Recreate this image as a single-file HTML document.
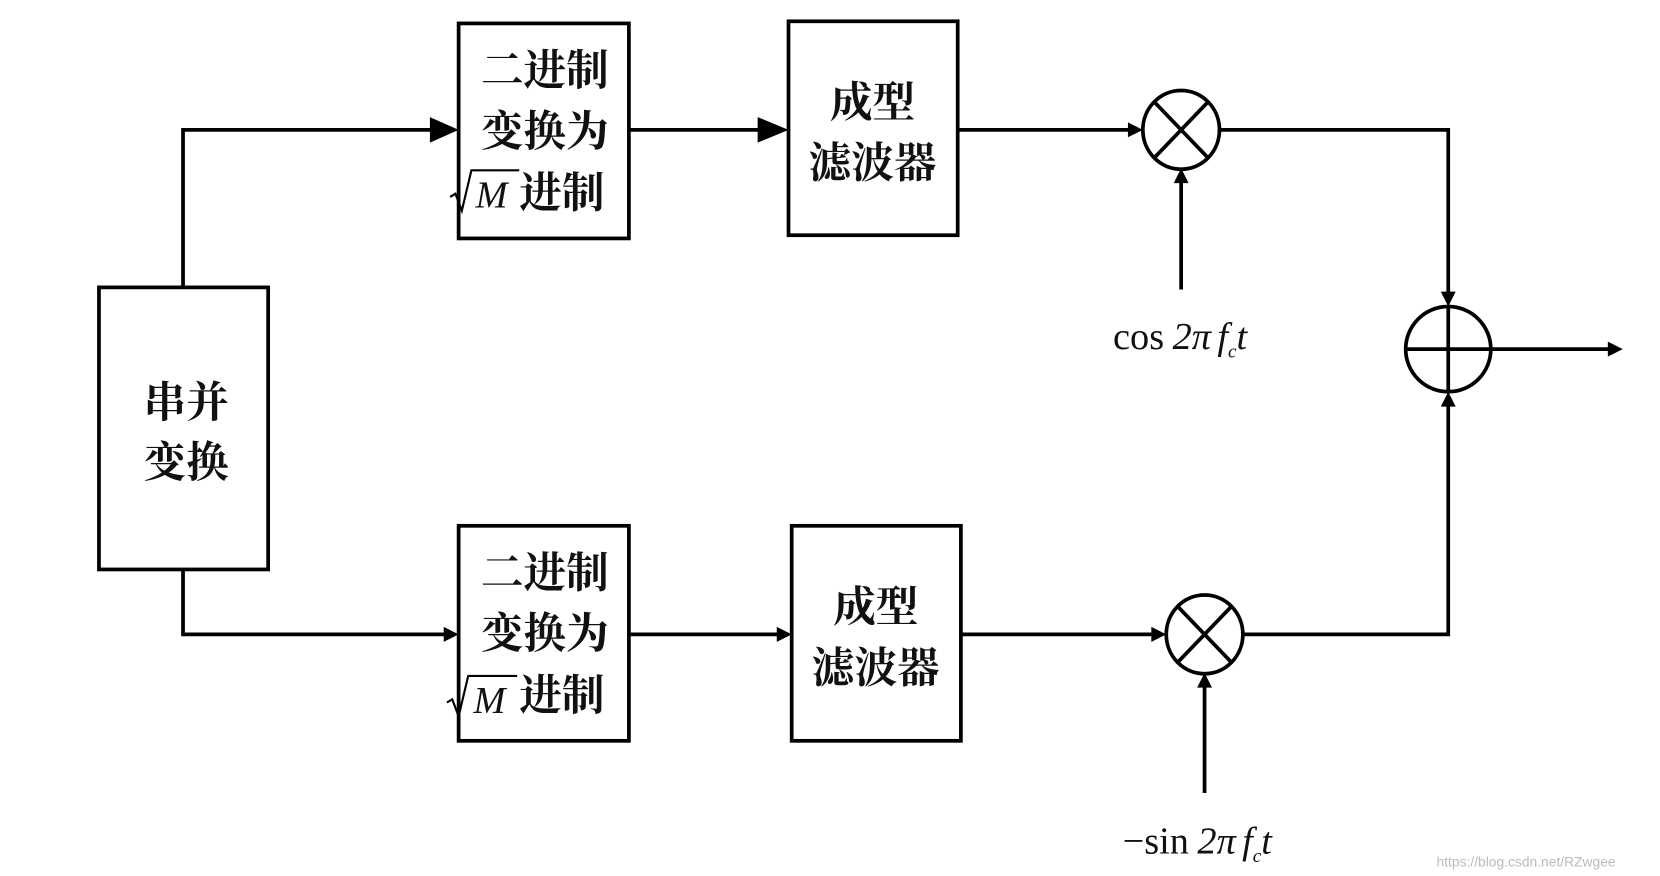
<!DOCTYPE html>
<html><head><meta charset="utf-8"><style>
html,body{margin:0;padding:0;background:#fff;}
svg{display:block;}
.cj{font-family:"Liberation Serif","Noto Serif CJK SC",serif;font-weight:bold;font-size:40px;fill:#111;}
.m{font-family:"Liberation Serif",serif;font-size:36px;fill:#111;}
</style></head><body>
<svg width="1660" height="876" viewBox="0 0 1560 823" preserveAspectRatio="none" xmlns="http://www.w3.org/2000/svg">
<defs>
<marker id="big" markerWidth="10" markerHeight="10" refX="9" refY="5" orient="auto" markerUnits="userSpaceOnUse"><path d="M0,0 L10,5 L0,10 z" fill="#000"/></marker>
</defs>
<g fill="none" stroke="#000" stroke-width="3.5">
<rect x="93" y="270" width="159" height="265"/>
<rect x="431" y="22" width="160" height="202"/>
<rect x="741" y="20" width="159" height="201"/>
<rect x="431" y="494" width="160" height="202"/>
<rect x="744" y="494" width="159" height="202"/>
<ellipse cx="1110" cy="122" rx="36" ry="37"/>
<line x1="1085" y1="96" x2="1135" y2="148"/><line x1="1135" y1="96" x2="1085" y2="148"/>
<ellipse cx="1132" cy="596" rx="36" ry="37"/>
<line x1="1107" y1="570" x2="1157" y2="622"/><line x1="1157" y1="570" x2="1107" y2="622"/>
<ellipse cx="1361" cy="328" rx="40" ry="40"/>
<line x1="1321" y1="328" x2="1401" y2="328"/><line x1="1361" y1="288" x2="1361" y2="368"/>
<polyline points="172,270 172,122 408,122"/>
<line x1="591" y1="122" x2="716" y2="122"/>
<line x1="900" y1="122" x2="1064" y2="122"/>
<polyline points="1146,122 1361,122 1361,278"/>
<line x1="1110" y1="272" x2="1110" y2="168"/>
<polyline points="172,535 172,596 421,596"/>
<line x1="591" y1="596" x2="734" y2="596"/>
<line x1="903" y1="596" x2="1086" y2="596"/>
<polyline points="1168,596 1361,596 1361,378"/>
<line x1="1132" y1="745" x2="1132" y2="642"/>
<line x1="1401" y1="328" x2="1515" y2="328"/>
</g>
<g fill="#000">
<path d="M404,110 L431,122 L404,134 z"/>
<path d="M712,110 L741,122 L712,134 z"/>
<path d="M1060,115 L1074,122 L1060,129 z"/>
<path d="M1354,274 L1361,288 L1368,274 z"/>
<path d="M1103,172 L1110,158 L1117,172 z"/>
<path d="M417,589 L431,596 L417,603 z"/>
<path d="M730,589 L744,596 L730,603 z"/>
<path d="M1082,589 L1096,596 L1082,603 z"/>
<path d="M1354,382 L1361,368 L1368,382 z"/>
<path d="M1125,646 L1132,632 L1139,646 z"/>
<path d="M1511,321 L1525,328 L1511,335 z"/>
</g>
<text class="cj" x="175" y="392" text-anchor="middle">串并</text>
<text class="cj" x="175" y="448" text-anchor="middle">变换</text>
<g class="cj">
<text x="512" y="80" text-anchor="middle">二进制</text>
<text x="512" y="137" text-anchor="middle">变换为</text>
<text x="488" y="195">进制</text>
<text x="820" y="110" text-anchor="middle">成型</text>
<text x="820" y="167" text-anchor="middle">滤波器</text>
<text x="512" y="552" text-anchor="middle">二进制</text>
<text x="512" y="609" text-anchor="middle">变换为</text>
<text x="488" y="667">进制</text>
<text x="823" y="584" text-anchor="middle">成型</text>
<text x="823" y="641" text-anchor="middle">滤波器</text>
</g>
<g fill="none" stroke="#000" stroke-width="2">
<polyline points="423,185 428,182 434,198 443,160 488,160"/>
<polyline points="420,660 425,657 431,673 440,635 486,635"/>
</g>
<text class="m" x="447" y="195" font-style="italic">M</text>
<text class="m" x="445" y="670" font-style="italic">M</text>
<text class="m" x="1046" y="328">cos<tspan font-style="italic" dx="8">2π</tspan><tspan font-style="italic" dx="6">f</tspan><tspan font-size="18" font-style="italic" dy="8">c</tspan><tspan font-style="italic" dy="-8">t</tspan></text>
<text class="m" x="1055" y="802">−sin<tspan font-style="italic" dx="8">2π</tspan><tspan font-style="italic" dx="6">f</tspan><tspan font-size="18" font-style="italic" dy="8">c</tspan><tspan font-style="italic" dy="-8">t</tspan></text>
<text x="1350" y="814" font-family="Liberation Sans,sans-serif" font-size="13" fill="#bbb">https://blog.csdn.net/RZwgee</text>
</svg>
</body></html>
